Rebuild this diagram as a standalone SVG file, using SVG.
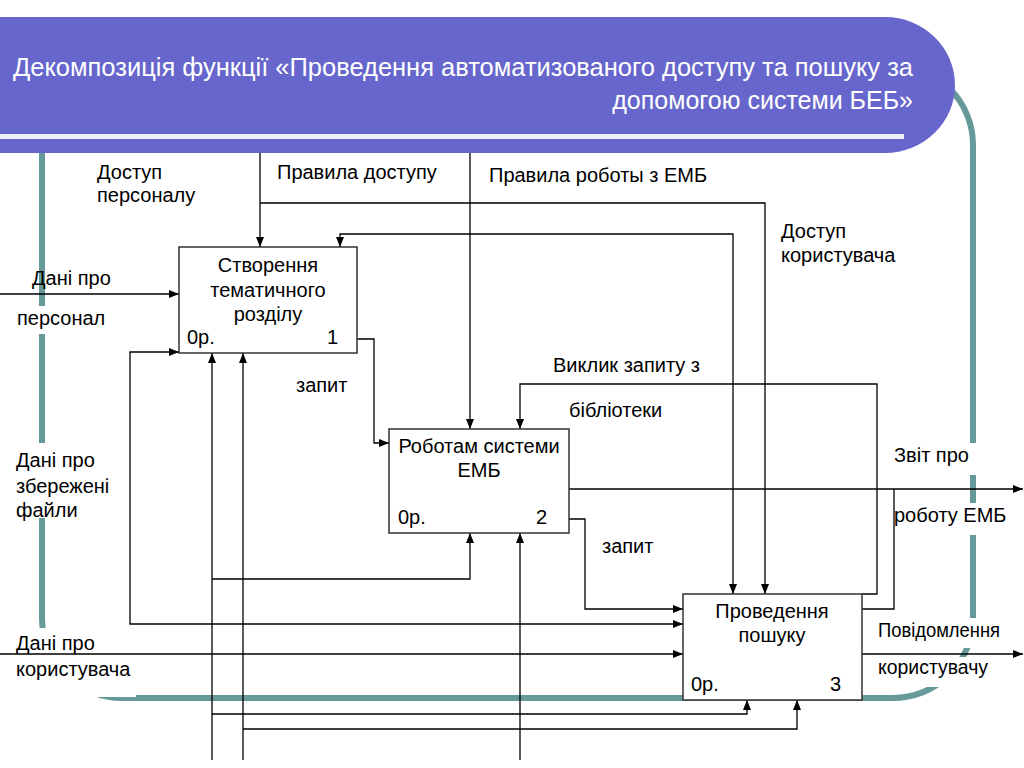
<svg xmlns="http://www.w3.org/2000/svg" width="1024" height="768" viewBox="0 0 1024 768">
<defs>
<marker id="arr" viewBox="0 0 10 8" refX="10" refY="4" markerWidth="10" markerHeight="8" markerUnits="userSpaceOnUse" orient="auto-start-reverse">
<path d="M0,0 L10,4 L0,8 z" fill="#000"/>
</marker>
<style>
.lbl{font-family:"Liberation Sans",Arial,sans-serif;font-size:20px;fill:#000}
.ttl{font-family:"Liberation Sans",Arial,sans-serif;font-size:25px;fill:#fff}
.box{fill:#fff;stroke:#333;stroke-width:1.5}
.ln{fill:none;stroke:#000;stroke-width:1.3}
.ar{marker-end:url(#arr)}
.ar2{marker-start:url(#arr);marker-end:url(#arr)}
.bg{fill:#fff}
</style>
</defs>
<rect width="1024" height="768" fill="#fff"/>
<rect x="42" y="65" width="931" height="633" rx="80" ry="80" fill="none" stroke="#669999" stroke-width="6"/>
<g id="header">
<path d="M0,17 H885 A70,68 0 0 1 955,85 A70,68 0 0 1 885,153 H0 Z" fill="#6666CC"/>
<rect x="0" y="134" width="904" height="5" fill="#EEEEFA"/>
<text class="ttl" x="13" y="76" textLength="900" lengthAdjust="spacingAndGlyphs">Декомпозиція функції «Проведення автоматизованого доступу та пошуку за</text>
<text class="ttl" x="913" y="109" text-anchor="end">допомогою системи БЕБ»</text>
</g>
<g id="labels">
<rect class="bg" x="14" y="306" width="92" height="28"/>
<rect class="bg" x="14" y="443" width="100" height="75"/>
<rect class="bg" x="0" y="628" width="136" height="69"/>
<rect class="bg" x="890" y="443" width="90" height="32"/>
<rect class="bg" x="890" y="503" width="120" height="32"/>
<rect class="bg" x="875" y="618" width="130" height="30"/>
<rect class="bg" x="875" y="657" width="120" height="30"/>
<text class="lbl" x="97" y="179">Доступ</text>
<text class="lbl" x="97" y="202">персоналу</text>
<text class="lbl" x="277" y="179">Правила доступу</text>
<text class="lbl" x="489" y="182">Правила роботы з ЕМБ</text>
<text class="lbl" x="781" y="238">Доступ</text>
<text class="lbl" x="781" y="262">користувача</text>
<text class="lbl" x="32" y="285">Дані про</text>
<text class="lbl" x="17" y="325">персонал</text>
<text class="lbl" x="296" y="392">запит</text>
<text class="lbl" x="553" y="372">Виклик запиту з</text>
<text class="lbl" x="569" y="417">бібліотеки</text>
<text class="lbl" x="16" y="467">Дані про</text>
<text class="lbl" x="16" y="493">збережені</text>
<text class="lbl" x="16" y="517">файли</text>
<text class="lbl" x="894" y="462">Звіт про</text>
<text class="lbl" x="894" y="522">роботу ЕМБ</text>
<text class="lbl" x="602" y="553">запит</text>
<text class="lbl" x="878" y="637" textLength="122" lengthAdjust="spacingAndGlyphs">Повідомлення</text>
<text class="lbl" x="878" y="674" textLength="110" lengthAdjust="spacingAndGlyphs">користувачу</text>
<text class="lbl" x="16" y="650">Дані про</text>
<text class="lbl" x="16" y="676">користувача</text>
</g>
<g id="connectors">
<path class="ln ar" d="M260,153 V247"/>
<path class="ln ar" d="M260,203 H765 V594"/>
<path class="ln ar" d="M470,153 V429"/>
<path class="ln ar2" d="M340,247 V234 H733 V594"/>
<path class="ln ar" d="M0,294 H179"/>
<path class="ln ar" d="M357,339 H374 V443 H389"/>
<path class="ln ar2" d="M179,352 H130 V624 H683"/>
<path class="ln ar" d="M569,519 H585 V609 H683"/>
<path class="ln ar" d="M0,654 H683"/>
<path class="ln ar" d="M569,489 H1023"/>
<path class="ln" d="M862,609 H894 V489"/>
<path class="ln ar" d="M862,594 H877 V384 H520 V429"/>
<path class="ln ar" d="M862,654 H1023"/>
<path class="ln ar" d="M212,760 V353"/>
<path class="ln ar" d="M212,579 H470 V533"/>
<path class="ln ar" d="M212,714 H747 V700"/>
<path class="ln ar" d="M243,760 V353"/>
<path class="ln ar" d="M243,729 H797 V700"/>
<path class="ln ar" d="M520,760 V533"/>
</g>
<g id="node1">
<rect class="box" x="179" y="247" width="178" height="106"/>
<text class="lbl" x="268" y="272" text-anchor="middle">Створення</text>
<text class="lbl" x="268" y="297" text-anchor="middle">тематичного</text>
<text class="lbl" x="268" y="321" text-anchor="middle">розділу</text>
<text class="lbl" x="187" y="344">0р.</text>
<text class="lbl" x="327" y="344">1</text>
</g>
<g id="node2">
<rect class="box" x="389" y="429" width="180" height="104"/>
<text class="lbl" x="479" y="453" text-anchor="middle">Роботам системи</text>
<text class="lbl" x="479" y="477" text-anchor="middle">ЕМБ</text>
<text class="lbl" x="398" y="524">0р.</text>
<text class="lbl" x="536" y="524">2</text>
</g>
<g id="node3">
<rect class="box" x="683" y="594" width="179" height="106"/>
<text class="lbl" x="772" y="618" text-anchor="middle">Проведення</text>
<text class="lbl" x="772" y="642" text-anchor="middle">пошуку</text>
<text class="lbl" x="691" y="691">0р.</text>
<text class="lbl" x="830" y="691">3</text>
</g>
</svg>
